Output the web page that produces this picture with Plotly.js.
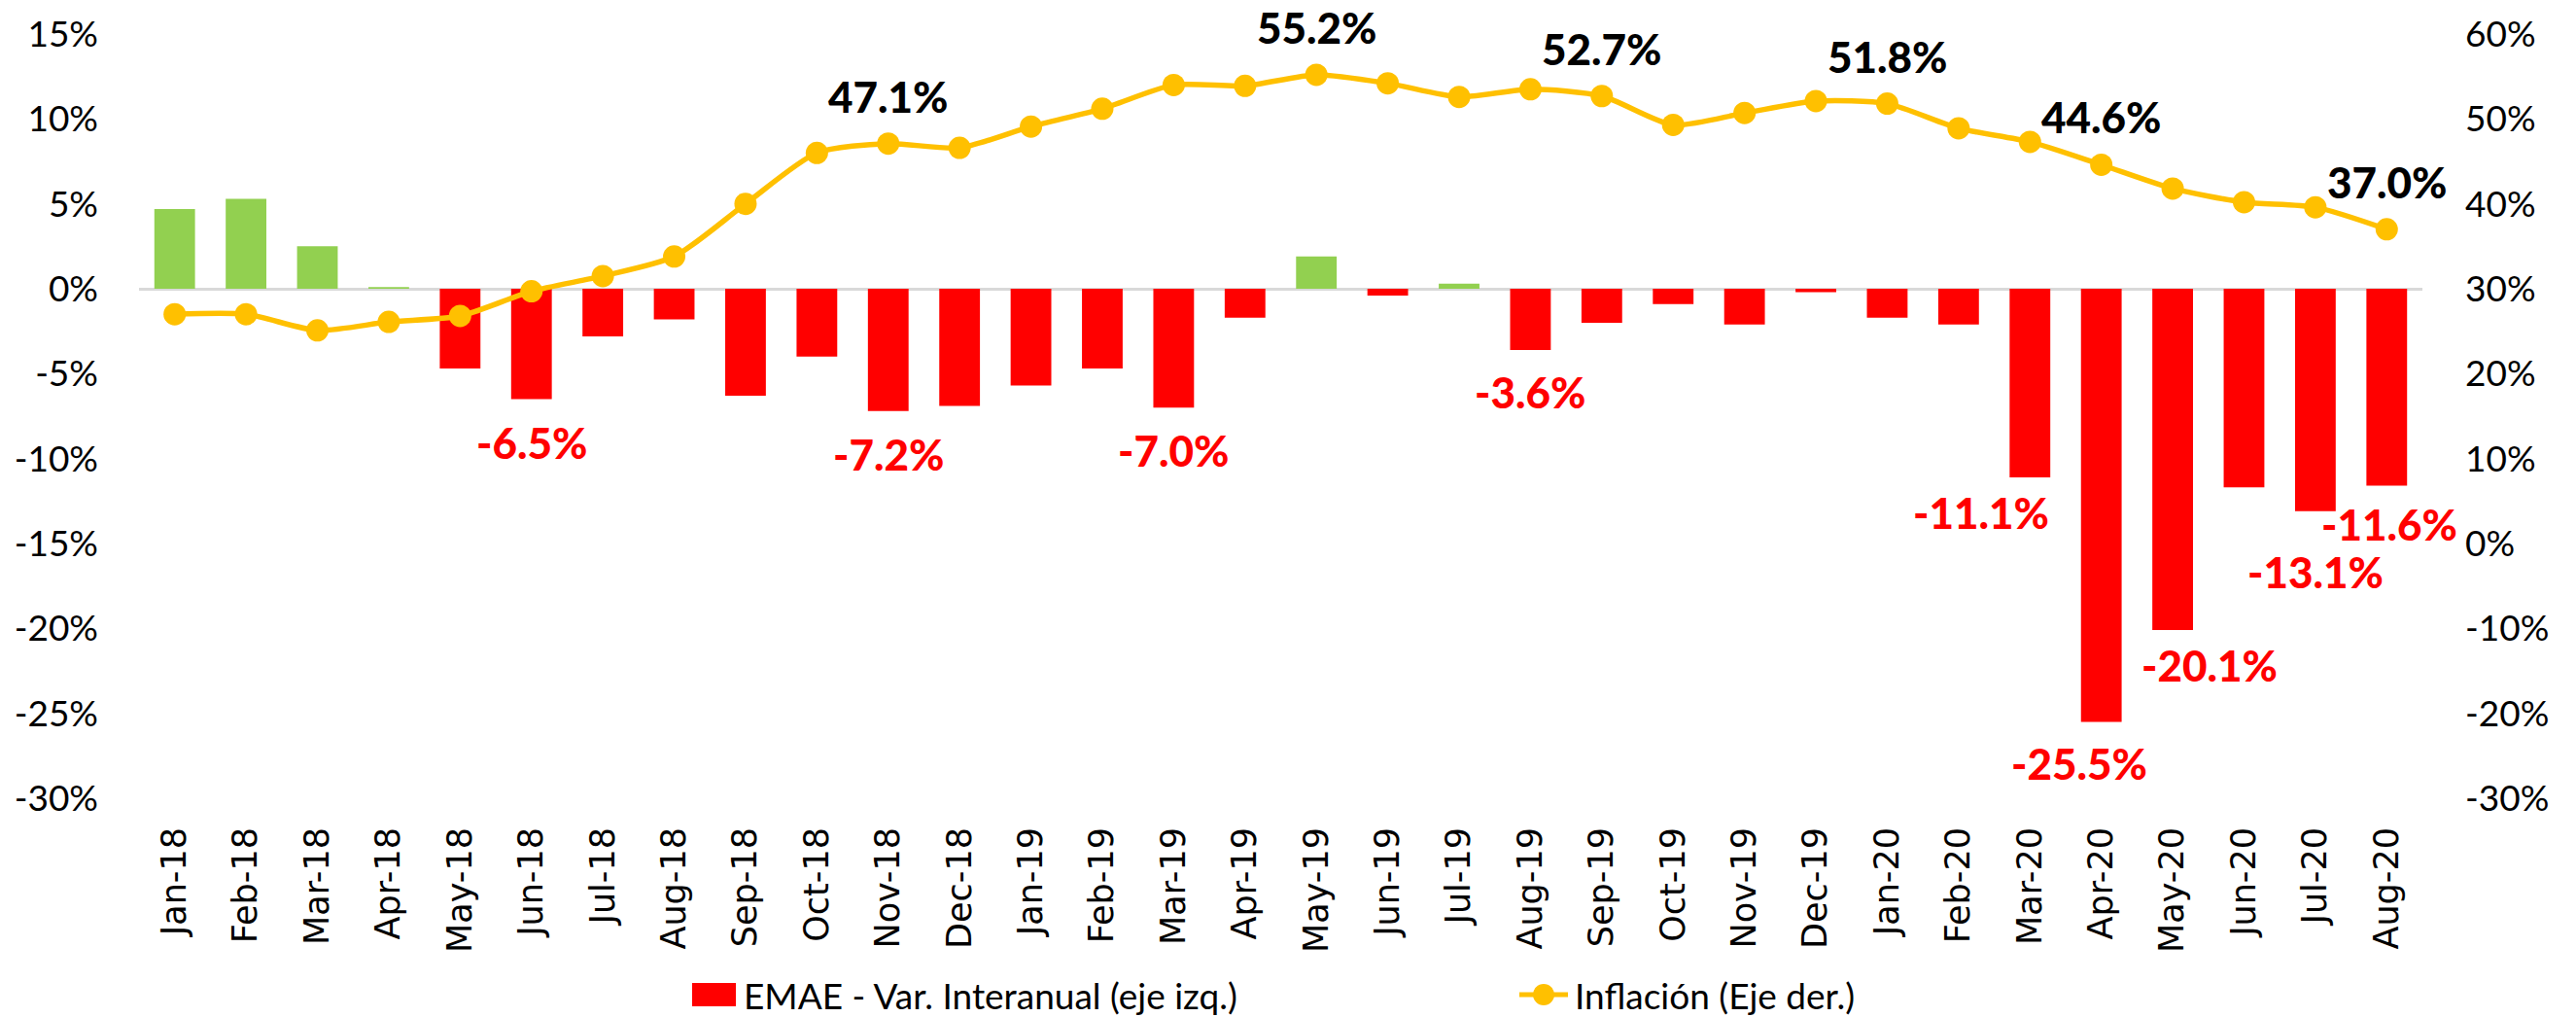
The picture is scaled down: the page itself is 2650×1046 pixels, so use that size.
<!DOCTYPE html>
<html><head><meta charset="utf-8">
<script src="https://cdn.plot.ly/plotly-3.0.1.min.js"></script>
<style>html,body{margin:0;padding:0;background:#fff}</style>
</head><body><div id="chart" style="width:2650px;height:1046px"></div>
<script>
// ---- data ----
const months = ["Jan-18","Feb-18","Mar-18","Apr-18","May-18","Jun-18","Jul-18","Aug-18","Sep-18","Oct-18","Nov-18","Dec-18",
  "Jan-19","Feb-19","Mar-19","Apr-19","May-19","Jun-19","Jul-19","Aug-19","Sep-19","Oct-19","Nov-19","Dec-19",
  "Jan-20","Feb-20","Mar-20","Apr-20","May-20","Jun-20","Jul-20","Aug-20"];
const emae = [4.7, 5.3, 2.5, 0.1, -4.7, -6.5, -2.8, -1.8, -6.3, -4.0, -7.2, -6.9,
  -5.7, -4.7, -7.0, -1.7, 1.9, -0.4, 0.3, -3.6, -2.0, -0.9, -2.1, -0.2,
  -1.7, -2.1, -11.1, -25.5, -20.1, -11.7, -13.1, -11.6];
const inflation = [27.0, 27.0, 25.1, 26.1, 26.8, 29.7, 31.5, 33.8, 40.0, 46.0, 47.1, 46.6,
  49.1, 51.2, 54.0, 53.9, 55.2, 54.2, 52.6, 53.5, 52.7, 49.3, 50.7, 52.1,
  51.8, 48.9, 47.3, 44.6, 41.8, 40.2, 39.6, 37.0];
const leftTickVals = [15, 10, 5, 0, -5, -10, -15, -20, -25, -30];
const leftTickText = ["15%","10%","5%","0%","-5%","-10%","-15%","-20%","-25%","-30%"];
const rightTickVals = [60, 50, 40, 30, 20, 10, 0, -10, -20, -30];
const rightTickText = ["60%","50%","40%","30%","20%","10%","0%","-10%","-20%","-30%"];
const emaeLabelMonths = ["Jun-18","Nov-18","Mar-19","Aug-19","Mar-20","Apr-20","May-20","Jul-20","Aug-20"];
const inflLabelMonths = ["Nov-18","May-19","Sep-19","Jan-20","Apr-20","Aug-20"];
const seriesNames = ["EMAE - Var. Interanual (eje izq.)", "Inflación (Eje der.)"];

// ---- styling / layout positions ----
const NARROW = 'Lato, "Liberation Sans", sans-serif';
const WIDE = '"DejaVu Sans", Verdana, sans-serif';
const RED = '#FF0000', GREEN = '#92D050', GOLD = '#FFC000';
const emaeOffsets = { "Jun-18":[0,-44], "Nov-18":[0,-44], "Mar-19":[0,-44], "Aug-19":[0,-43],
  "Mar-20":[-50,-36], "Apr-20":[-23,-43], "May-20":[38,-36], "Jul-20":[0,-62], "Aug-20":[3,-39] };
const inflShift = 49;
const W = 2650, H = 1046, ML = 143, MR = 158, MT = 35, MB = 225;
const PW = W - ML - MR, PH = H - MT - MB;
const px = x => (x - ML) / PW, py = y => (H - MB - y) / PH;

const pos = emae.map(v => v >= 0 ? v : null);
const neg = emae.map(v => v < 0 ? v : null);
const pct = v => v.toFixed(1) + '%';

const traces = [
  { type:'bar', x:months, y:pos, marker:{color:GREEN}, name:seriesNames[0], showlegend:false, hoverinfo:'x+y' },
  { type:'bar', x:months, y:neg, marker:{color:RED}, name:seriesNames[0], showlegend:false, hoverinfo:'x+y' },
  { type:'scatter', mode:'lines+markers', x:months, y:inflation, yaxis:'y2', name:seriesNames[1], showlegend:false,
    cliponaxis:false,
    line:{color:GOLD, width:5.5, shape:'spline', smoothing:0.7}, marker:{color:GOLD, size:23} }
];

const annotations = [];
emaeLabelMonths.forEach(m => {
  const i = months.indexOf(m);
  const o = emaeOffsets[m];
  annotations.push({ x:m, y:emae[i], xref:'x', yref:'y', text:pct(emae[i]), showarrow:false,
    xshift:o[0], yshift:o[1], font:{family:NARROW, size:44, color:RED, weight:900} });
});
inflLabelMonths.forEach(m => {
  const i = months.indexOf(m);
  annotations.push({ x:m, y:inflation[i], xref:'x', yref:'y2', text:pct(inflation[i]), showarrow:false,
    yshift:inflShift, font:{family:NARROW, size:44, color:'#000', weight:900} });
});
// custom legend
const legY = py(1023);
annotations.push({ x:px(763), y:legY, xref:'paper', yref:'paper', xanchor:'left', yanchor:'middle', showarrow:false,
  text:seriesNames[0], font:{family:NARROW, size:37, color:'#000'} });
annotations.push({ x:px(1618), y:legY, xref:'paper', yref:'paper', xanchor:'left', yanchor:'middle', showarrow:false,
  text:seriesNames[1], font:{family:NARROW, size:37, color:'#000'} });
const shapes = [
  { type:'rect', xref:'paper', yref:'paper', x0:px(712), x1:px(757), y0:py(1035), y1:py(1011), fillcolor:RED, line:{width:0} },
  { type:'line', xref:'paper', yref:'paper', x0:px(1563), x1:px(1613), y0:legY, y1:legY, line:{color:GOLD, width:5} },
  { type:'circle', xref:'paper', yref:'paper', xsizemode:'pixel', ysizemode:'pixel', xanchor:px(1588), yanchor:legY,
    x0:-11, x1:11, y0:-11, y1:11, fillcolor:GOLD, line:{width:0} }
];

const layout = {
  width:W, height:H, margin:{l:ML, r:MR, t:MT, b:MB, pad:0},
  paper_bgcolor:'#fff', plot_bgcolor:'#fff', barmode:'overlay', bargap:0.43, showlegend:false,
  xaxis:{ type:'category', range:[-0.5, months.length - 0.5], tickangle:-90, tickfont:{family:WIDE, size:35, color:'#000'},
    showgrid:false, showline:false, zeroline:false, ticks:'', ticklabelstandoff:22, automargin:false },
  yaxis:{ range:[-30,15], tickvals:leftTickVals, ticktext:leftTickText, showgrid:false, zeroline:true,
    zerolinecolor:'#D9D9D9', zerolinewidth:3, showline:false, ticks:'', ticklabelstandoff:41,
    tickfont:{family:NARROW, size:37, color:'#000'}, automargin:false },
  yaxis2:{ range:[-30,60], overlaying:'y', side:'right', tickvals:rightTickVals, ticktext:rightTickText,
    showgrid:false, zeroline:false, showline:false, ticks:'', ticklabelstandoff:43,
    tickfont:{family:NARROW, size:37, color:'#000'}, automargin:false },
  annotations, shapes
};
Plotly.newPlot('chart', traces, layout, {displayModeBar:false, staticPlot:true});
</script></body></html>
